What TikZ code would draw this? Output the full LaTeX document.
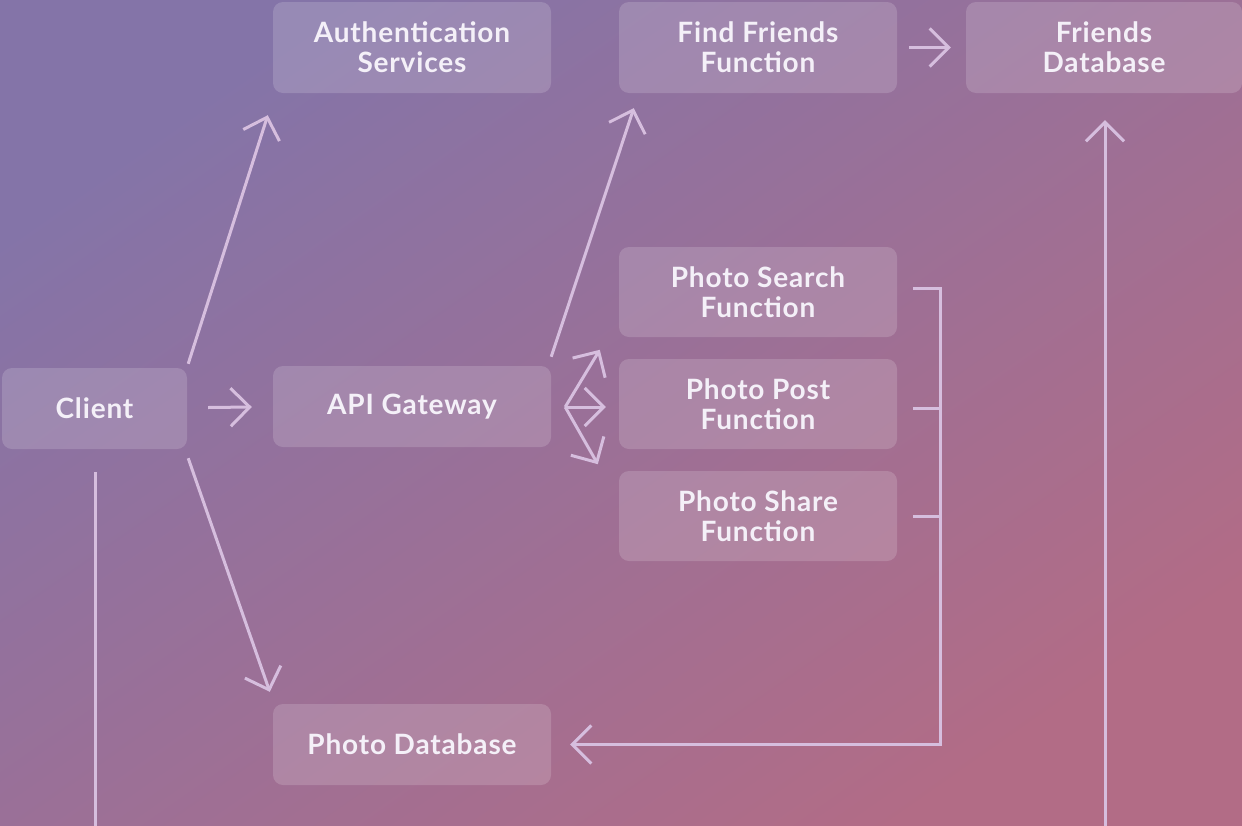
\documentclass[tikz,border=0pt]{standalone}
\usepackage{fontspec}
\setmainfont{Lato}[LetterSpace=3]
\usetikzlibrary{arrows.meta}
\definecolor{bgA}{RGB}{132,116,168}
\definecolor{bgB}{RGB}{178,108,134}
\definecolor{lnc}{RGB}{214,190,222}
\definecolor{txt}{RGB}{244,240,248}
\tikzset{
  box/.style={rounded corners=10pt, fill=white, fill opacity=0.16, text opacity=1,
    text=txt, inner sep=0pt, align=center,
    font=\fontsize{28}{30}\selectfont\bfseries},
  ln/.style={draw=lnc, line width=3pt},
  arr/.style={ln, -{Straight Barb[length=19pt,width=38pt,line width=3pt]}},
}
\begin{document}
\begin{tikzpicture}[x=1pt,y=-1pt]
\shade[shading=axis, left color=bgA, right color=bgB, shading angle=35] (0,0) rectangle (1242,825);
\useasboundingbox (0,0) rectangle (1242,825);

\node[box, minimum width=278pt, minimum height=91pt] (auth) at (412,47.5) {Authentication\\Services};
\node[box, minimum width=278pt, minimum height=91pt] (ff) at (758,47.5) {Find Friends\\Function};
\node[box, minimum width=276pt, minimum height=91pt] (fdb) at (1104,47.5) {Friends\\Database};
\node[box, minimum width=278pt, minimum height=90pt] (ps) at (758,292) {Photo Search\\Function};
\node[box, minimum width=278pt, minimum height=90pt] (pp) at (758,404) {Photo Post\\Function};
\node[box, minimum width=278pt, minimum height=90pt] (psh) at (758,516) {Photo Share\\Function};
\node[box, minimum width=185pt, minimum height=81pt] (client) at (94.5,408.5) {Client};
\node[box, minimum width=278pt, minimum height=81pt] (api) at (412,406.5) {API Gateway};
\node[box, minimum width=278pt, minimum height=81pt] (pdb) at (412,744.5) {Photo Database};

% client connectors
\draw[arr] ([shift={(21,-1)}]client.east) -- ([shift={(-21,0.5)}]api.west);
\draw[arr] ([shift={(1,-4)}]client.north east) -- ([shift={(-5,22)}]auth.south west);
\draw[arr] ([shift={(1,9)}]client.south east) -- ([shift={(-3,-12)}]pdb.north west);
\coordinate (cbot) at (95,830);
\draw[ln] ([shift={(0.5,23)}]client.south) -- (cbot);

% api connectors
\draw[arr] ([shift={(0,-9)}]api.north east) -- ([shift={(15,15)}]ff.south west);
\coordinate (fork) at ([shift={(14,0.5)}]api.east);
\draw[arr] (fork) -- ([shift={(-19,-9)}]pp.north west);
\draw[arr] (fork) -- ([xshift=-13pt]fork -| pp.west);
\draw[arr] (fork) -- ([shift={(-21,15)}]pp.south west);

% friends
\draw[arr] ([xshift=12pt]ff.east) -- ([xshift=-15pt]fdb.west);
\coordinate (fbot) at (1105,830);
\draw[arr] (fbot) -- ([shift={(1,27)}]fdb.south);

% photo bracket
\draw[arr] ([shift={(16,-4)}]ps.east) -- ++(27,0) |- ([xshift=19pt]pdb.east);
\draw[ln] ([shift={(16,4)}]pp.east) -- ++(27,0);
\draw[ln] ([shift={(16,0)}]psh.east) -- ++(27,0);
\end{tikzpicture}
\end{document}
